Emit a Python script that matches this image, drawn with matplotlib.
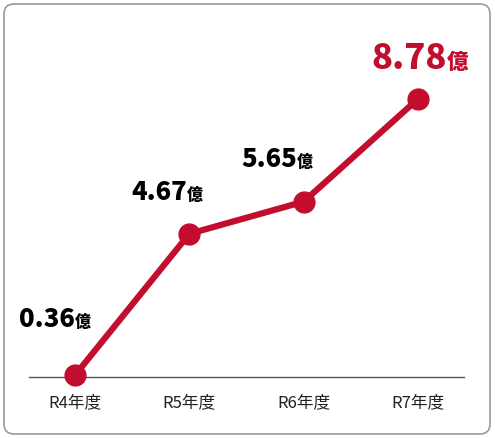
import matplotlib.pyplot as plt
from matplotlib.patches import FancyBboxPatch

plt.rcParams['font.family'] = ['Noto Sans CJK JP', 'DejaVu Sans']

years = ['R4年度', 'R5年度', 'R6年度', 'R7年度']
values = [0.36, 4.67, 5.65, 8.78]
labels = ['0.36', '4.67', '5.65', '8.78']

red = '#C30D2F'
W, H = 495, 439
fig = plt.figure(figsize=(W / 100, H / 100), dpi=100)
ax = fig.add_axes([0, 0, 1, 1])

# pixel mapping: x index 0 -> 75px, 114.3px per step; y 0 -> 388px, 32.8px per unit
ax.set_xlim(-75 / 114.3, (W - 75) / 114.3)
ax.set_ylim((388 - H) / 32.8, 388 / 32.8)
ax.axis('off')

fig.patches.append(FancyBboxPatch((4, 4), W - 9, H - 9, boxstyle='round,pad=0,rounding_size=10',
                                  transform=None, fill=False, edgecolor='#9a9a9a', lw=1.2))

ax.plot([-0.4, 3.4], [0.3, 0.3], color='#555555', lw=1)
ax.plot(range(4), values, color=red, lw=4.5, marker='o', ms=15, zorder=3)

for i, y in enumerate(years):
    ax.text(i, -0.45, y, ha='center', va='center', fontsize=12, color='#222222')

offsets = [(0.0, 1.5), (-0.02, 1.05), (-0.06, 1.1), (0.25, 0.95)]
for i, (v, lab) in enumerate(zip(values, labels)):
    dx, dy = offsets[i]
    last = i == 3
    col = red if last else 'black'
    fs = 25 if last else 18.5
    ax.text(i + dx, v + dy, lab, ha='right', va='baseline', fontsize=fs,
            fontweight='heavy', color=col)
    ax.text(i + dx, v + dy, '億', ha='left', va='baseline', fontsize=fs * 0.62,
            fontweight='heavy', color=col)

fig.savefig('out.png', dpi=100)
